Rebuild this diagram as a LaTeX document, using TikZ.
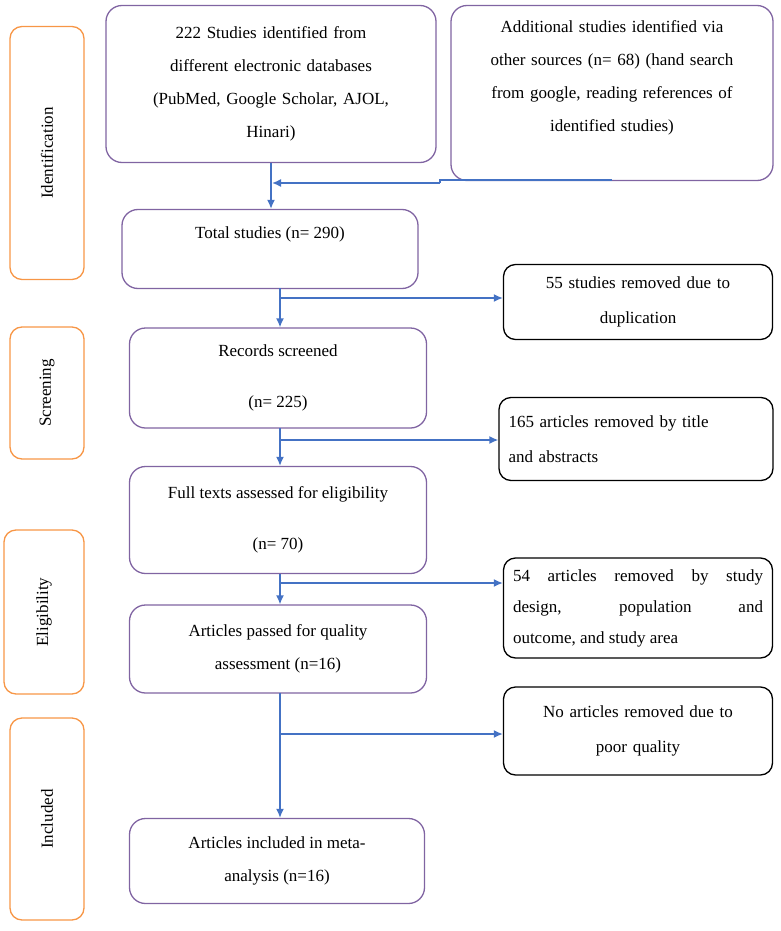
\documentclass[tikz,border=0pt]{standalone}
\usepackage{fontspec}
\setmainfont{Liberation Serif}
\usetikzlibrary{arrows.meta}
\definecolor{boxpurple}{RGB}{128,100,162}
\definecolor{stageorange}{RGB}{247,150,70}
\definecolor{flowblue}{RGB}{68,114,196}
\begin{document}
\begin{tikzpicture}[x=1pt,y=-1pt,
  main/.style = {draw=boxpurple, line width=1.3pt, rounded corners=16pt, align=center, inner sep=4pt, font=\fontsize{17}{33}\selectfont},
  side/.style = {draw=black, line width=1.3pt, rounded corners=12pt, inner sep=6pt, font=\fontsize{17}{35}\selectfont},
  stage/.style = {draw=stageorange, line width=1.3pt, rounded corners=12pt, rotate=90, font=\fontsize{17}{18}\selectfont},
  flow/.style = {draw=flowblue, line width=1.5pt, -{Latex[length=9pt,width=8pt]}}]
\useasboundingbox (0,0) rectangle (780,931);
% phases
\node[stage, minimum width=253, minimum height=74] (id) at (47,153) {Identification};
\node[stage, minimum width=132, minimum height=74] (scr) at (47,393) {Screening};
\node[stage, minimum width=164, minimum height=80] (elig) at (44,612) {Eligibility};
\node[stage, minimum width=202, minimum height=74] (incl) at (47,819) {Included};
% main boxes
\node[main, minimum width=330, minimum height=157, text width=322] (db) at (271,84) {222 Studies identified from\\ different electronic databases\\ (PubMed, Google Scholar, AJOL,\\ Hinari)};
\node[main, minimum width=322, minimum height=175, text width=314] (other) at (612,93) {Additional studies identified via\\ other sources (n= 68) (hand search\\ from google, reading references of\\ identified studies)\\ \mbox{}};
\node[main, minimum width=296, minimum height=79] (total) at (270,249) {Total studies (n= 290)\\ \mbox{}};
\node[main, minimum width=297, minimum height=100] (screen) at (278,378) {Records screened\\[18pt] (n= 225)};
\node[main, minimum width=297, minimum height=107] (full) at (278,520) {Full texts assessed for eligibility\\[18pt] (n= 70)};
\node[main, minimum width=297, minimum height=88] (qual) at (278,649) {Articles passed for quality\\ assessment (n=16)};
\node[main, minimum width=295, minimum height=85] (meta) at (277,861) {Articles included in meta-\\ analysis (n=16)};
% removed boxes
\node[side, minimum width=269, minimum height=75, text width=255, align=center] (dup) at (638,302) {55 studies removed due to\\ duplication};
\node[side, minimum width=274, minimum height=83, text width=255, align=left] (title) at (636,439) {165 articles removed by title\\ and abstracts};
\node[side, minimum width=269, minimum height=100, text width=250, align=justify, font=\fontsize{17}{31}\selectfont] (design) at (638,608) {54 articles removed by study\linebreak design, population and\linebreak outcome, and study area};
\node[side, minimum width=269, minimum height=88, text width=255, align=center] (poor) at (638,731) {No articles removed due to\\ poor quality};
% connectors
\coordinate (b1) at (612,180);
\coordinate (b2) at (440,180);
\coordinate (b3) at (440,183);
\coordinate (b4) at (272,183);
\draw[flow] (db.south) -- (total.north -| db.south);
\draw[draw=flowblue, line width=1.5pt] (b1) -- (b2) -- (b3);
\draw[flow] (b3) -- (b4);
\coordinate (t1) at (280,288);
\coordinate (t2) at (280,298);
\draw[flow] (t1) -- (screen.north -| t1);
\draw[flow] (t2) -- (dup.west |- t2);
\coordinate (s1) at (280,428);
\coordinate (s2) at (280,440);
\draw[flow] (s1) -- (full.north -| s1);
\draw[flow] (s2) -- (title.west |- s2);
\coordinate (f1) at (280,574);
\coordinate (f2) at (280,583);
\draw[flow] (f1) -- (qual.north -| f1);
\draw[flow] (f2) -- (design.west |- f2);
\coordinate (q1) at (280,693);
\coordinate (q2) at (280,734);
\draw[flow] (q1) -- (meta.north -| q1);
\draw[flow] (q2) -- (poor.west |- q2);
\end{tikzpicture}
\end{document}
